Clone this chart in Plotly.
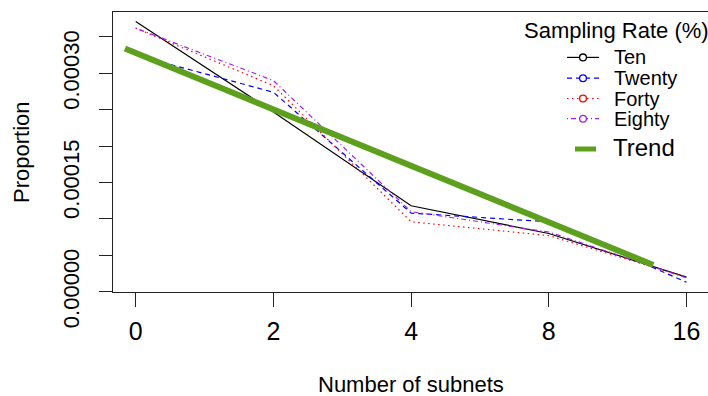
import plotly.graph_objects as go

# Number of subnets (categorical positions on the x axis)
subnets = ["0", "2", "4", "8", "16"]

# Proportion for each sampling rate
ten = [0.000371, 0.000247, 0.000118, 0.000080, 0.0000200]
twenty = [0.000325, 0.000274, 0.000108, 0.000096, 0.0000130]
forty = [0.000362, 0.000283, 0.000096, 0.000077, 0.0000200]
eighty = [0.000362, 0.000290, 0.000110, 0.000082, 0.0000190]

# Fitted trend line (start / end)
trend_pos = [-0.078, 3.759]
trend_vals = [0.000334, 0.0000367]

# Y-axis ticks (every 0.00005, labelled every third)
y_ticks = [0.0, 0.00005, 0.00010, 0.00015, 0.00020, 0.00025, 0.00030, 0.00035]
y_ticktext = ["0.00000", "", "", "0.00015", "", "", "0.00030", ""]

FONT = "Liberation Sans, Arial, Helvetica, sans-serif"

series = [
    ("Ten", ten, "#000000", "solid"),
    ("Twenty", twenty, "#0000FF", "5px,4px"),
    ("Forty", forty, "#FF0000", "1.5px,3.5px"),
    ("Eighty", eighty, "#A020F0", "1px,3px,5px,3px"),
]
GREEN = "#5CA01E"

W, H = 708, 396
L, R, T, B = 113, 708, 12, 292

fig = go.Figure()
x_idx = list(range(len(subnets)))
for name, vals, col, dash in series:
    fig.add_trace(go.Scatter(x=x_idx, y=vals, mode="lines", name=name,
                             line=dict(color=col, width=1.2, dash=dash),
                             showlegend=False))
fig.add_trace(go.Scatter(x=trend_pos, y=trend_vals, mode="lines", name="Trend",
                         line=dict(color=GREEN, width=6), showlegend=False))


def px(x):
    return (x - L) / (R - L)


def py(y):
    return (B - y) / (B - T)


# Legend drawn in paper space
shapes = []
annotations = []
annotations.append(dict(x=px(522), y=py(30), xref="paper", yref="paper",
                        text="Sampling Rate (%)", showarrow=False,
                        xanchor="left", yanchor="middle",
                        font=dict(family=FONT, size=22, color="#000")))
leg_y = [57.4, 78.2, 98.5, 118.7]
for (name, vals, col, dash), yy in zip(series, leg_y):
    shapes.append(dict(type="line", xref="paper", yref="paper",
                       x0=px(567), x1=px(599), y0=py(yy), y1=py(yy),
                       line=dict(color=col, width=1.2, dash=dash)))
    shapes.append(dict(type="circle", xref="paper", yref="paper",
                       xsizemode="pixel", ysizemode="pixel",
                       xanchor=px(583), yanchor=py(yy),
                       x0=-3.4, x1=3.4, y0=-3.4, y1=3.4,
                       fillcolor="white", line=dict(color=col, width=1.3)))
    annotations.append(dict(x=px(612), y=py(yy), xref="paper", yref="paper",
                            text=name, showarrow=False,
                            xanchor="left", yanchor="middle",
                            font=dict(family=FONT, size=20, color="#000")))
shapes.append(dict(type="line", xref="paper", yref="paper",
                   x0=px(575), x1=px(596), y0=py(149), y1=py(149),
                   line=dict(color=GREEN, width=5)))
annotations.append(dict(x=px(611), y=py(147), xref="paper", yref="paper",
                        text="Trend", showarrow=False,
                        xanchor="left", yanchor="middle",
                        font=dict(family=FONT, size=24, color="#000")))

# Axis titles
annotations.append(dict(x=px(411), y=py(384), xref="paper", yref="paper",
                        text="Number of subnets", showarrow=False,
                        xanchor="center", yanchor="middle",
                        font=dict(family=FONT, size=22, color="#000")))
annotations.append(dict(x=px(21), y=py(152), xref="paper", yref="paper",
                        text="Proportion", showarrow=False, textangle=-90,
                        xanchor="center", yanchor="middle",
                        font=dict(family=FONT, size=22, color="#000")))

unit_x = 137.7
x0 = -(135.7 - L) / unit_x
x1 = x0 + (R - L) / unit_x
unit_y = 0.00005 / 36.4
y0 = -(B - 291.7) * unit_y
y1 = (291.7 - T) * unit_y

fig.update_layout(
    width=W, height=H,
    margin=dict(l=L, r=W - R, t=T, b=H - B),
    paper_bgcolor="white", plot_bgcolor="white",
    font=dict(family=FONT, color="#000"),
    showlegend=False,
    shapes=shapes, annotations=annotations,
    xaxis=dict(range=[x0, x1], tickmode="array", tickvals=x_idx, ticktext=subnets,
               showgrid=False, zeroline=False, showline=True, mirror=True,
               linecolor="#222", linewidth=1.2, ticks="outside", ticklen=14,
               tickwidth=1.2, tickcolor="#222", ticklabelstandoff=3,
               tickfont=dict(family=FONT, size=25, color="#000")),
    yaxis=dict(range=[y0, y1], tickmode="array", tickvals=y_ticks, ticktext=y_ticktext,
               showgrid=False, zeroline=False, showline=True, mirror=False,
               linecolor="#222", linewidth=1.2, ticks="outside", ticklen=13,
               tickwidth=1.2, tickcolor="#222", tickangle=-90, ticklabelstandoff=11,
               tickfont=dict(family=FONT, size=22, color="#000")),
)

fig.write_html("out.html")
